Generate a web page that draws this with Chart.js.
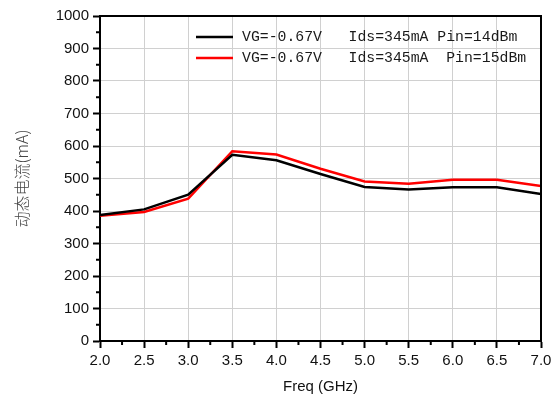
<!DOCTYPE html>
<html>
<head>
<meta charset="utf-8">
<script src="https://cdn.jsdelivr.net/npm/chart.js@4.4.1/dist/chart.umd.min.js"></script>
<style>
html,body{margin:0;padding:0;background:#fff;}
#wrap{width:560px;height:397px;}
</style>
</head>
<body>
<div id="wrap"><canvas id="c" width="560" height="397"></canvas></div>
<script>
const freqs = [2.0, 2.5, 3.0, 3.5, 4.0, 4.5, 5.0, 5.5, 6.0, 6.5, 7.0];
const pin14 = [388, 405, 450, 573, 556, 514, 474, 466, 473, 473, 452];
const pin15 = [385, 397, 438, 584, 574, 530, 491, 484, 496, 496, 477];
const seriesLabels = ['VG=-0.67V   Ids=345mA Pin=14dBm', 'VG=-0.67V   Ids=345mA  Pin=15dBm'];
const seriesColors = ['#000000', '#ff0000'];
const yMinorTicks = [50, 150, 250, 350, 450, 550, 650, 750, 850, 950];
const xMinorTicks = [2.25, 2.75, 3.25, 3.75, 4.25, 4.75, 5.25, 5.75, 6.25, 6.75];

const framePlugin = {
  id: 'frame',
  afterDraw(chart) {
    const ctx = chart.ctx;
    const a = chart.chartArea;
    const xs = chart.scales.x, ys = chart.scales.y;
    ctx.save();
    ctx.strokeStyle = '#000';
    ctx.lineWidth = 2;
    ctx.beginPath();
    ctx.moveTo(a.left, a.top); ctx.lineTo(a.right, a.top); ctx.lineTo(a.right, a.bottom);
    ctx.stroke();
    ctx.beginPath();
    yMinorTicks.forEach(v => { const p = ys.getPixelForValue(v); ctx.moveTo(a.left - 4, p); ctx.lineTo(a.left, p); });
    xMinorTicks.forEach(v => { const p = xs.getPixelForValue(v); ctx.moveTo(p, a.bottom); ctx.lineTo(p, a.bottom + 4); });
    ctx.stroke();
    // legend
    ctx.font = '14.8px "Liberation Mono", monospace';
    ctx.textBaseline = 'middle';
    ctx.textAlign = 'left';
    chart.data.datasets.forEach((ds, i) => {
      const y = a.top + 21 + i * 21;
      ctx.strokeStyle = ds.borderColor;
      ctx.lineWidth = 2.5;
      ctx.beginPath();
      ctx.moveTo(a.left + 96, y); ctx.lineTo(a.left + 133, y);
      ctx.stroke();
      ctx.fillStyle = '#1a1a1a';
      ctx.fillText(ds.label, a.left + 142, y);
    });
    ctx.restore();
  }
};

new Chart(document.getElementById('c'), {
  type: 'line',
  data: {
    datasets: [
      { label: seriesLabels[0], data: freqs.map((f, i) => ({x: f, y: pin14[i]})), borderColor: seriesColors[0], borderWidth: 2.5, pointRadius: 0, tension: 0, fill: false },
      { label: seriesLabels[1], data: freqs.map((f, i) => ({x: f, y: pin15[i]})), borderColor: seriesColors[1], borderWidth: 2.5, pointRadius: 0, tension: 0, fill: false }
    ]
  },
  options: {
    responsive: false,
    animation: false,
    layout: { padding: { top: 16, right: 19, left: 0, bottom: 0 } },
    plugins: { legend: { display: false }, tooltip: { enabled: false } },
    scales: {
      x: {
        type: 'linear', min: 2, max: 7,
        ticks: { stepSize: 0.5, callback: v => Number(v).toFixed(1), color: '#111', font: { family: '"Liberation Sans", Arial, sans-serif', size: 15 }, padding: 4, maxRotation: 0 },
        grid: { color: '#d0d0d0', lineWidth: 1, tickColor: '#000', tickLength: 7, tickWidth: 2 },
        border: { color: '#000', width: 2 },
        title: { display: true, text: 'Freq (GHz)', color: '#111', font: { family: '"Liberation Sans", Arial, sans-serif', size: 15 }, padding: { top: 4, bottom: 1 } },
        afterFit(s) { s.height = 56; }
      },
      y: {
        min: 0, max: 1000,
        ticks: { stepSize: 100, callback: v => String(v), color: '#111', font: { family: '"Liberation Sans", Arial, sans-serif', size: 15 }, padding: 4 },
        grid: { color: '#d0d0d0', lineWidth: 1, tickColor: '#000', tickLength: 7, tickWidth: 2 },
        border: { color: '#000', width: 2 },
        title: { display: true, text: '动态电流(mA)', color: '#444', font: { family: '"Noto Sans CJK SC", sans-serif', size: 16, weight: 300 }, padding: { top: 12, bottom: 4 } },
        afterFit(s) { s.width = 100; }
      }
    }
  },
  plugins: [framePlugin]
});
</script>
</body>
</html>
